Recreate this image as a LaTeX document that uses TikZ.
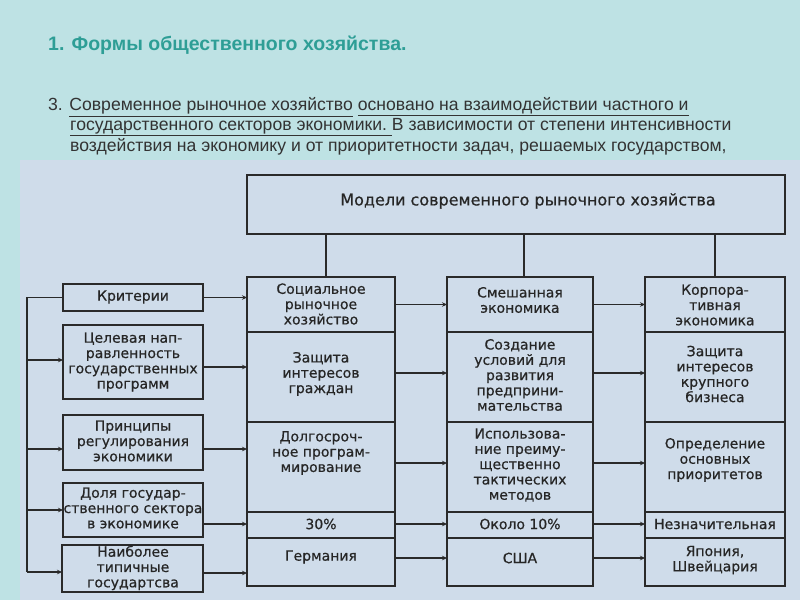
\documentclass[tikz,border=0pt]{standalone}
\usepackage{fontspec}
\setmainfont{Liberation Sans}
\newfontfamily\djfont[FakeBold=0.6]{DejaVu Sans}
\newfontfamily\narrowfont{Liberation Sans}
\usetikzlibrary{arrows.meta,calc}
\definecolor{topbg}{HTML}{BEE2E4}
\definecolor{panelbg}{HTML}{CFDCEA}
\definecolor{titlecol}{HTML}{2E9E96}
\definecolor{linecol}{HTML}{2A2A2A}
\definecolor{txtcol}{HTML}{333333}
\tikzset{
  cell/.style={draw=linecol, line width=1.4pt, anchor=north west, inner sep=0pt, outer sep=0pt},
  ctext/.style={font=\djfont\fontsize{14}{15.3}\selectfont, align=center, text=black!85, inner sep=0pt},
  conn/.style={draw=linecol, line width=1.2pt},
  arr/.style={conn, -{Stealth[length=5pt,width=4.5pt]}},
  bodytext/.style={font=\narrowfont\fontsize{17.6}{20}\selectfont, text=txtcol, anchor=west, inner sep=0pt}
}
\begin{document}
\begin{tikzpicture}[x=1pt,y=-1pt]
\useasboundingbox (0,0) rectangle (800,600);
\fill[topbg] (0,0) rectangle (800,600);
\fill[panelbg] (20,160) rectangle (800,600);

% header text
\node[anchor=west, inner sep=0pt, font=\bfseries\fontsize{19.5}{22}\selectfont, text=titlecol] (title) at (48,45) {1. Формы общественного хозяйства.};
\node[bodytext] (line1) at (48,107) {3. \underline{Современное рыночное хозяйство} \underline{основано на взаимодействии частного и}};
\node[bodytext] (line2) at (70,127) {\underline{государственного секторов экономики.~}В зависимости от степени интенсивности};
\node[bodytext] (line3) at (70,147) {воздействия на экономику и от приоритетности задач, решаемых государством,};

% top box
\node[cell, minimum width=538pt, minimum height=59pt] (top) at (247,175) {};
\node[ctext, font=\djfont\fontsize{16}{18}\selectfont] (toptext) at (528,201) {Модели современного рыночного хозяйства};

% column 1
\node[cell, minimum width=148pt, minimum height=55pt] (c1r1) at (247,277) {};
\node[cell, minimum width=148pt, minimum height=90pt] (c1r2) at (247,332) {};
\node[cell, minimum width=148pt, minimum height=90pt] (c1r3) at (247,422) {};
\node[cell, minimum width=148pt, minimum height=26pt] (c1r4) at (247,512) {};
\node[cell, minimum width=148pt, minimum height=48pt] (c1r5) at (247,538) {};
% column 2
\node[cell, minimum width=146pt, minimum height=55pt] (c2r1) at (447,277) {};
\node[cell, minimum width=146pt, minimum height=90pt] (c2r2) at (447,332) {};
\node[cell, minimum width=146pt, minimum height=90pt] (c2r3) at (447,422) {};
\node[cell, minimum width=146pt, minimum height=26pt] (c2r4) at (447,512) {};
\node[cell, minimum width=146pt, minimum height=48pt] (c2r5) at (447,538) {};
% column 3
\node[cell, minimum width=140pt, minimum height=55pt] (c3r1) at (645,277) {};
\node[cell, minimum width=140pt, minimum height=90pt] (c3r2) at (645,332) {};
\node[cell, minimum width=140pt, minimum height=90pt] (c3r3) at (645,422) {};
\node[cell, minimum width=140pt, minimum height=26pt] (c3r4) at (645,512) {};
\node[cell, minimum width=140pt, minimum height=48pt] (c3r5) at (645,538) {};

% left boxes
\node[cell, minimum width=140pt, minimum height=27pt] (lb1) at (63,284) {};
\node[cell, minimum width=140pt, minimum height=74pt] (lb2) at (63,325) {};
\node[cell, minimum width=140pt, minimum height=55pt] (lb3) at (63,415) {};
\node[cell, minimum width=140pt, minimum height=54pt] (lb4) at (63,483) {};
\node[cell, minimum width=141pt, minimum height=47pt] (lb5) at (62,545) {};

% texts column 1
\node[ctext] (t11) at (321,304) {Социальное\\рыночное\\хозяйство};
\node[ctext] (t12) at (321,374) {Защита\\интересов\\граждан};
\node[ctext] (t13) at (321,453) {Долгосроч-\\ное програм-\\мирование};
\node[ctext] (t14) at (321,524) {30\%};
\node[ctext] (t15) at (321,557) {Германия};
% texts column 2
\node[ctext] (t21) at (520,300) {Смешанная\\экономика};
\node[ctext] (t22) at (520,375) {Создание\\условий для\\развития\\предприни-\\мательства};
\node[ctext] (t23) at (520,465) {Использова-\\ние преиму-\\щественно\\тактических\\методов};
\node[ctext] (t24) at (520,524) {Около 10\%};
\node[ctext] (t25) at (520,558) {США};
% texts column 3
\node[ctext] (t31) at (715,305) {Корпора-\\тивная\\экономика};
\node[ctext] (t32) at (715,374) {Защита\\интересов\\крупного\\бизнеса};
\node[ctext] (t33) at (715,460) {Определение\\основных\\приоритетов};
\node[ctext] (t34) at (715,524) {Незначительная};
\node[ctext] (t35) at (715,560) {Япония,\\Швейцария};
% left texts
\node[ctext] (tl1) at (133,297) {Критерии};
\node[ctext] (tl2) at (133,362) {Целевая нап-\\равленность\\государственных\\программ};
\node[ctext] (tl3) at (133,441) {Принципы\\регулирования\\экономики};
\node[ctext] (tl4) at (133,508) {Доля государ-\\ственного сектора\\в экономике};
\node[ctext] (tl5) at (133,568) {Наиболее\\типичные\\государтсва};

% connectors from top box
\draw[conn] ([xshift=5pt]c1r1.north) -- ([xshift=5pt]c1r1.north |- top.south);
\draw[conn] ([xshift=4pt]c2r1.north) -- ([xshift=4pt]c2r1.north |- top.south);
\draw[conn] (c3r1.north) -- (c3r1.north |- top.south);

% arrows col1 -> col2 -> col3
\draw[arr] (c1r1.east) -- (c2r1.west);
\draw[arr] ([yshift=4pt]c1r2.east) -- ([yshift=4pt]c2r2.west);
\draw[arr] ([yshift=4pt]c1r3.east) -- ([yshift=4pt]c2r3.west);
\draw[arr] ([yshift=1pt]c1r4.east) -- ([yshift=1pt]c2r4.west);
\draw[arr] ([yshift=4pt]c1r5.east) -- ([yshift=4pt]c2r5.west);
\draw[arr] (c2r1.east) -- (c3r1.west);
\draw[arr] ([yshift=4pt]c2r2.east) -- ([yshift=4pt]c3r2.west);
\draw[arr] ([yshift=4pt]c2r3.east) -- ([yshift=4pt]c3r3.west);
\draw[arr] ([yshift=1pt]c2r4.east) -- ([yshift=1pt]c3r4.west);
\draw[arr] ([yshift=4pt]c2r5.east) -- ([yshift=4pt]c3r5.west);

% arrows left boxes -> col1
\draw[arr] (lb1.east) -- (lb1.east -| c1r1.west);
\draw[arr] ([yshift=-5pt]lb2.east) -- ([yshift=-5pt]lb2.east -| c1r2.west);
\draw[arr] ([yshift=-6.5pt]lb3.east) -- ([yshift=-6.5pt]lb3.east -| c1r3.west);
\draw[arr] ([yshift=-14pt]lb4.east) -- ([yshift=-14pt]lb4.east -| c1r4.west);
\draw[arr] ([yshift=-4.5pt]lb5.east) -- ([yshift=-4.5pt]lb5.east -| c1r5.west);

% left bus
\coordinate (busT) at (27,297);
\coordinate (busB) at (27,572);
\draw[conn] (lb1.west) -- (lb1.west -| busT) -- (busB);
\draw[arr] ([yshift=2pt]lb2.west -| busT) -- ([yshift=2pt]lb2.west);
\draw[arr] ([yshift=-6.5pt]lb3.west -| busT) -- ([yshift=-6.5pt]lb3.west);
\draw[arr] (lb4.west -| busT) -- (lb4.west);
\draw[arr] ([yshift=-3.5pt]lb5.west -| busT) -- ([yshift=-3.5pt]lb5.west);
\end{tikzpicture}
\end{document}
